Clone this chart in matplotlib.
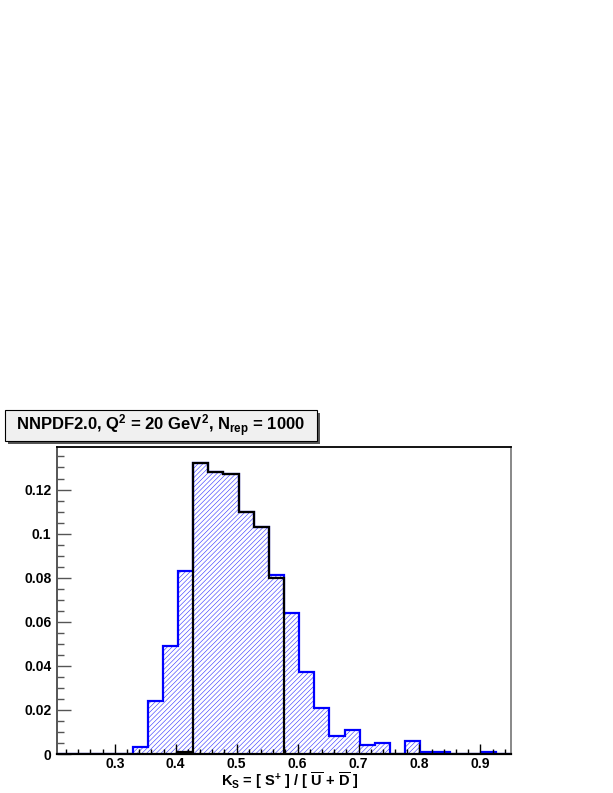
import numpy as np
import matplotlib
matplotlib.use('Agg')
import matplotlib.pyplot as plt
from matplotlib.patches import Rectangle
from matplotlib.ticker import MultipleLocator, FuncFormatter

plt.rcParams['font.family'] = ['Liberation Sans', 'DejaVu Sans']
plt.rcParams['font.weight'] = 'bold'
plt.rcParams['axes.labelweight'] = 'bold'
plt.rcParams['mathtext.fontset'] = 'custom'
plt.rcParams['mathtext.rm'] = 'Liberation Sans:bold'
plt.rcParams['mathtext.it'] = 'Liberation Sans:bold'
plt.rcParams['mathtext.bf'] = 'Liberation Sans:bold'
plt.rcParams['hatch.linewidth'] = 0.4
plt.rcParams['hatch.color'] = '#3030ff'

# histogram binning (30 bins over the axis range)
x_lo, x_hi, n_bins = 0.2052, 0.9502, 30
edges = np.linspace(x_lo, x_hi, n_bins + 1)

# all replicas, fraction per bin
all_reps = [0, 0, 0, 0, 0, 0.003, 0.024, 0.049, 0.083, 0.132,
            0.128, 0.127, 0.110, 0.103, 0.081, 0.064, 0.037, 0.021, 0.008, 0.011,
            0.004, 0.005, 0, 0.006, 0.001, 0.001, 0, 0, 0.001, 0]
# central 68% subset, bins 8..14
cl_first_bin = 8
cl_reps = [0.001, 0.132, 0.128, 0.127, 0.110, 0.103, 0.080]

title = r'NNPDF2.0, Q$^{2}$ = 20 GeV$^{2}$, N$_{\rm rep}$ = 1000'
xlabel = r'K$_{\rm S}$ = [ S$^{+}$ ] / [ $\overline{\rm U}$ + $\overline{\rm D}$ ]'

W, H = 613, 793
fig = plt.figure(figsize=(W / 100, H / 100), dpi=100)
ax = fig.add_axes([57 / W, (H - 754) / H, (511 - 57) / W, (754 - 447) / H])

ax.stairs(all_reps, edges, fill=True, facecolor='none', edgecolor='#3030ff',
          hatch='///////', linewidth=0)
ax.stairs(all_reps, edges, color='blue', linewidth=1.6)
cl_edges = edges[cl_first_bin:cl_first_bin + len(cl_reps) + 1]
ax.stairs(cl_reps, cl_edges, color='black', linewidth=1.6)

ax.set_xlim(x_lo, x_hi)
ax.set_ylim(0, 0.1393)
ax.xaxis.set_major_locator(MultipleLocator(0.1))
ax.xaxis.set_minor_locator(MultipleLocator(0.02))
ax.yaxis.set_major_locator(MultipleLocator(0.02))
ax.yaxis.set_minor_locator(MultipleLocator(0.005))
ax.yaxis.set_major_formatter(FuncFormatter(lambda v, p: '%g' % round(v, 4)))
ax.xaxis.set_major_formatter(FuncFormatter(lambda v, p: '%g' % round(v, 4)))

ax.tick_params(axis='both', which='both', direction='in', top=False, right=False,
               labelsize=10)
ax.tick_params(axis='x', which='major', length=7, width=1, pad=2)
ax.tick_params(axis='x', which='minor', length=3.5, width=1)
ax.tick_params(axis='y', which='major', length=10, width=1, color='#555555', pad=4)
ax.tick_params(axis='y', which='minor', length=5, width=1, color='#555555')
for lab in ax.get_xticklabels() + ax.get_yticklabels():
    lab.set_fontweight('bold')

ax.spines['left'].set_color('#555555')
ax.spines['left'].set_linewidth(1.4)
ax.spines['bottom'].set_linewidth(1.6)
ax.spines['top'].set_linewidth(1.3)
ax.spines['right'].set_color('#888888')
ax.spines['right'].set_linewidth(1.4)

ax.set_xlabel(xlabel, fontsize=10.5, fontweight='bold', labelpad=1)
ax.xaxis.set_label_coords(0.513, -0.055)

# title box with shadow
bx0, bx1, by0, by1 = 5, 317, 410, 441
sh = 3
fig.patches.append(Rectangle(((bx0 + sh) / W, (H - by1 - sh) / H), (bx1 - bx0) / W,
                             (by1 - by0) / H, transform=fig.transFigure,
                             facecolor='#555555', edgecolor='none'))
fig.patches.append(Rectangle((bx0 / W, (H - by1) / H), (bx1 - bx0) / W,
                             (by1 - by0) / H, transform=fig.transFigure,
                             facecolor='#f0f0f0', edgecolor='black', linewidth=0.8))
fig.text((bx0 + bx1) / 2 / W, (H - (by0 + by1) / 2) / H, title, fontsize=12,
         fontweight='bold', ha='center', va='center')

fig.savefig('out.png', dpi=100)
